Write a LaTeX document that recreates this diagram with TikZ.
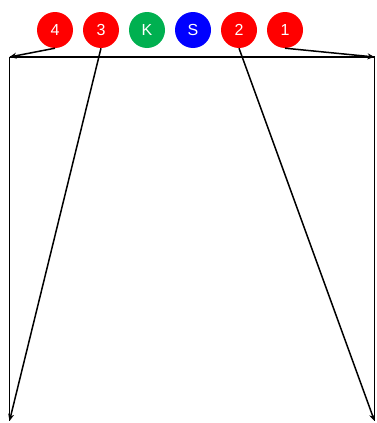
\documentclass[tikz,border=0pt]{standalone}
\usepackage{fontspec}
\setmainfont{Liberation Sans}
\usetikzlibrary{arrows.meta, positioning}
\definecolor{ballgreen}{RGB}{0,176,80}

\begin{document}
\begin{tikzpicture}[
  x=1pt, y=-1pt,
  ball/.style={circle, minimum size=36pt, inner sep=0pt, text=white, font=\fontsize{16}{16}\selectfont},
  arrow/.style={-{Stealth[length=7pt, width=6pt]}, line width=1.5pt},
  edge/.style={line width=1.5pt}
]
  \useasboundingbox (0,0) rectangle (377,423);

  \node[ball, fill=red] (n4) at (55,30) {4};
  \node[ball, fill=red, right=9.6pt of n4] (n3) {3};
  \node[ball, fill=ballgreen, right=9.6pt of n3] (nk) {K};
  \node[ball, fill=blue, right=9.6pt of nk] (ns) {S};
  \node[ball, fill=red, right=9.6pt of ns] (n2) {2};
  \node[ball, fill=red, right=9.6pt of n2] (n1) {1};

  \coordinate (tl) at (9.5,57);
  \coordinate (tr) at (374.5,57);
  \coordinate (bl) at (9.5,421);
  \coordinate (br) at (374.5,421);

  \draw[edge] (tl) -- (tr);
  \draw[edge] (tl) -- (bl);
  \draw[edge] (tr) -- (br);

  \draw[arrow] (n4.south) -- (tl);
  \draw[arrow] (n1.south) -- (tr);
  \draw[arrow] (n3.south) -- (bl);
  \draw[arrow] (n2.south) -- (br);
\end{tikzpicture}
\end{document}
